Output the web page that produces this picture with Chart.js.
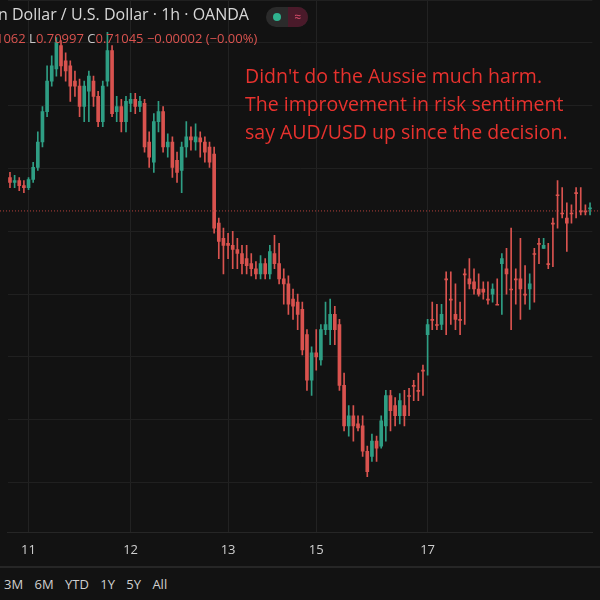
<!DOCTYPE html>
<html>
<head>
<meta charset="utf-8">
<script src="https://cdn.jsdelivr.net/npm/chart.js@4"></script>
<style>
  body { margin: 0; background: #121212; width: 600px; height: 600px; overflow: hidden; font-family: "Open Sans", sans-serif; }
  #wrap { position: absolute; left: 0; top: 0; width: 600px; height: 568px; }
  .txt { position: absolute; white-space: nowrap; }
  #title { left: -2px; top: 3px; color: #d8d8d8; font-size: 16px; }
  #ohlc { left: -4px; top: 29px; color: #d9534f; font-size: 13px; }
  #ohlc b { color: #c8c8c8; font-weight: normal; }
  #note { left: 245px; top: 62px; color: #e8322e; font-size: 19.5px; line-height: 28px; }
  #sep { position: absolute; left: 0; top: 566px; width: 600px; height: 2px; background: #262626; }
  #ranges { left: 4px; top: 575px; color: #cfcfcf; font-size: 13px; word-spacing: 8px; }
  #pill { position: absolute; left: 266px; top: 7px; width: 42px; height: 20px; border-radius: 10px; background: #2b2b2b; }
</style>
</head>
<body>
<div id="wrap"><canvas id="chart" width="600" height="568"></canvas></div>
<div class="txt" id="title">n Dollar / U.S. Dollar · 1h · OANDA</div>
<div id="pill"><span style="position:absolute;left:7px;top:6px;width:8px;height:8px;border-radius:4px;background:#2fb38f"></span><span style="position:absolute;left:22px;top:0;width:20px;height:20px;border-radius:0 10px 10px 0;background:#4a1a2a;color:#e05070;font-size:12px;text-align:center;line-height:20px">≈</span></div>
<div class="txt" id="ohlc">1062 <b>L</b>0.70997 <b>C</b>0.71045 −0.00002 (−0.00%)</div>
<div class="txt" id="note">Didn't do the Aussie much harm.<br>The improvement in risk sentiment<br>say AUD/USD up since the decision.</div>
<div id="sep"></div>
<div class="txt" id="ranges">3M 6M YTD 1Y 5Y All</div>
<script>
// values are read as distance below the top of the pane (axis reversed, axis itself hidden)
var opens  = [195,200,198,203,205,197,185,160,130,100,88,65,80,85,100,105,125,110,100,115,140,100,70,130,125,140,122,118,125,122,160,180,140,130,165,160,178,188,165,155,160,156,160,165,172,240,255,260,262,266,270,275,280,285,290,280,290,270,280,295,300,315,318,325,350,395,368,375,345,345,330,340,400,440,430,438,440,465,470,455,460,440,410,420,430,420,410,400,405,385,350,335,340,340,295,315,330,335,290,295,298,305,305,315,310,320,280,285,305,295,295,310,305,270,260,265,280,240,212,230,235,230,210,228,228,226];
var closes = [200,198,203,205,197,185,160,130,100,85,62,85,90,105,105,125,105,95,115,140,105,70,132,125,140,120,118,125,120,165,175,140,130,165,160,185,190,165,155,158,155,160,170,180,245,258,262,262,266,270,280,282,285,290,280,290,268,280,295,300,320,322,330,365,395,368,372,345,340,330,345,400,440,430,440,442,465,485,455,462,435,410,425,430,415,430,410,400,405,385,340,335,340,330,295,315,335,335,290,300,305,310,308,315,305,320,275,290,305,295,305,310,300,270,260,262,280,240,212,230,240,230,210,228,228,225,232];
var highs  = [190,193,195,198,195,180,150,125,85,75,57,60,72,80,90,98,100,90,95,110,100,52,65,115,118,115,112,112,115,118,150,132,120,125,152,155,170,160,140,145,142,150,155,160,165,235,245,250,248,255,262,262,270,278,272,275,262,252,260,285,292,305,310,318,345,362,345,340,318,315,322,335,388,420,420,430,430,460,448,450,430,405,405,412,408,405,403,395,388,380,335,318,320,320,288,288,300,318,285,275,285,290,298,298,300,295,270,265,245,285,255,282,290,265,255,255,260,235,198,205,220,222,205,205,222,220,222];
var lows   = [205,205,208,210,207,200,188,165,135,105,95,95,100,120,115,135,140,140,125,145,145,105,135,140,150,150,130,132,130,170,185,190,150,170,175,195,200,210,175,168,168,175,180,185,250,275,290,275,285,285,290,290,292,295,295,295,295,285,300,320,330,335,345,370,405,410,385,380,350,360,360,405,445,450,455,445,470,490,475,475,462,455,445,440,438,440,430,415,415,410,390,345,345,345,350,340,345,350,340,305,310,312,315,320,318,320,330,310,345,320,335,320,325,318,280,265,285,283,245,235,268,240,235,232,232,232,236];
var dayLabels = { 4: "11", 26: "12", 47: "13", 66: "15", 90: "17" };
var priceLine = 228;

var green = "#2f9e84", red = "#d9534f";
var labels = opens.map(function (v, i) { return i; });
var cols = opens.map(function (o, i) { return closes[i] < o ? green : red; });

var dotted = {
  id: "dotted",
  afterDatasetsDraw: function (chart) {
    var c = chart.ctx, y = chart.scales.y.getPixelForValue(priceLine);
    c.save();
    c.strokeStyle = "#b5403c"; c.lineWidth = 1; c.setLineDash([1, 2]);
    c.beginPath(); c.moveTo(0, y); c.lineTo(600, y); c.stroke();
    c.restore();
  }
};

new Chart(document.getElementById("chart"), {
  type: "bar",
  data: {
    labels: labels,
    datasets: [
      { data: lows.map(function (l, i) { return [l, highs[i]]; }), backgroundColor: cols, barThickness: 1, grouped: false },
      { data: opens.map(function (o, i) { return [o, closes[i] === o ? o + 1 : closes[i]]; }), backgroundColor: cols, barThickness: 3, grouped: false }
    ]
  },
  options: {
    responsive: false,
    animation: false,
    maintainAspectRatio: false,
    plugins: { legend: { display: false }, tooltip: { enabled: false } },
    scales: {
      x: {
        offset: true,
        grid: { color: function (ctx) { return dayLabels[ctx.index] ? "#222222" : "transparent"; }, drawTicks: false, offset: false },
        border: { color: "#262626" },
        ticks: { autoSkip: false, maxRotation: 0, color: "#cfcfcf", font: { size: 13, family: "Open Sans" }, padding: 10,
          callback: function (v, i) { return dayLabels[i] || ""; } }
      },
      y: {
        display: true, reverse: true, min: 20, max: 545,
        grid: { color: "#202020", drawTicks: false }, border: { display: false },
        ticks: { display: false, stepSize: 62 }
      }
    }
  },
  plugins: [dotted]
});
</script>
</body>
</html>
